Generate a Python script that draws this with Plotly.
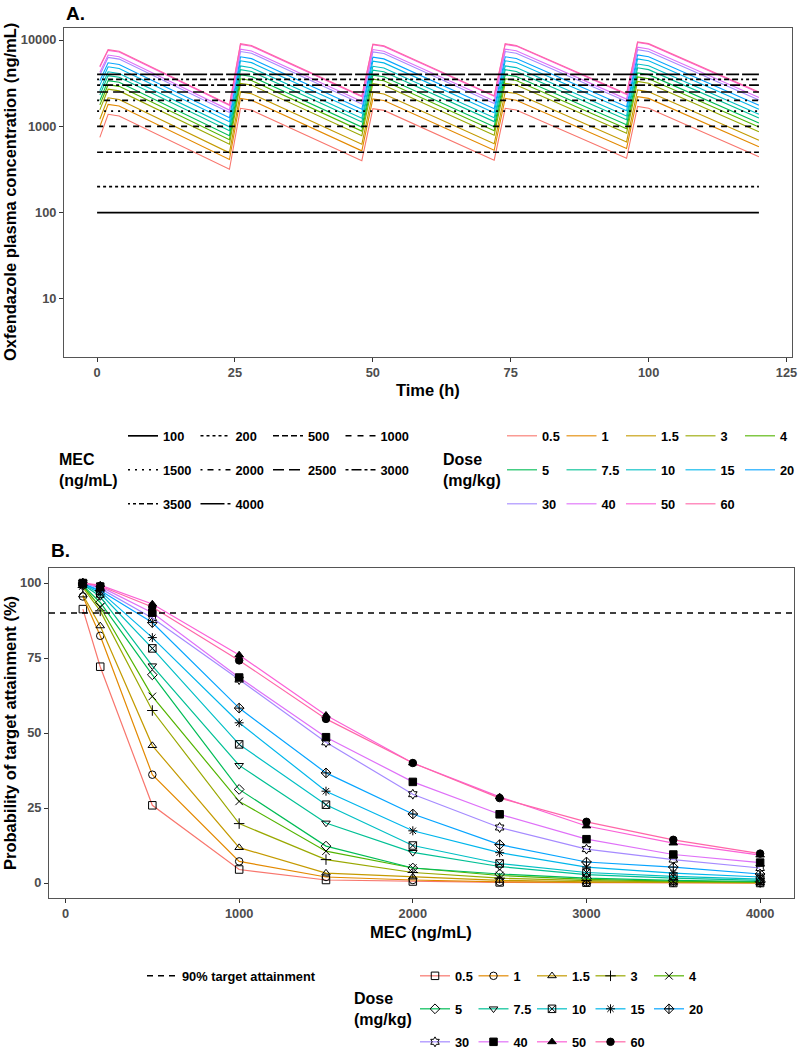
import math
import plotly.graph_objects as go

# ---------------- data ----------------
doses = ["0.5", "1", "1.5", "3", "4", "5", "7.5", "10", "15", "20", "30", "40", "50", "60"]

# Panel A: simulated plasma concentration (ng/mL), vertices of the profile
time_h = [0.5, 2, 4, 24, 26, 28, 48, 50, 52, 72, 74, 76, 96, 98, 100, 120]
conc_0_5 = [745, 1380, 1320, 318, 1616, 1540, 400, 1600, 1530, 405, 1616, 1545, 426, 1700, 1620, 445]
conc_1 = [995, 1794, 1716, 413, 2101, 2002, 520, 2080, 1989, 527, 2101, 2009, 554, 2210, 2106, 579]
conc_1_5 = [1206, 2139, 2046, 493, 2505, 2387, 620, 2480, 2372, 628, 2505, 2395, 660, 2635, 2511, 690]
conc_3 = [1553, 2691, 2574, 620, 3151, 3003, 780, 3120, 2984, 790, 3151, 3013, 831, 3315, 3159, 868]
conc_4 = [1772, 3036, 2904, 700, 3555, 3388, 880, 3520, 3366, 891, 3555, 3399, 937, 3740, 3564, 979]
conc_5 = [1996, 3381, 3234, 779, 3959, 3773, 980, 3920, 3749, 992, 3959, 3785, 1044, 4165, 3969, 1090]
conc_7_5 = [2311, 3864, 3696, 890, 4525, 4312, 1120, 4480, 4284, 1134, 4525, 4326, 1193, 4760, 4536, 1246]
conc_10 = [2585, 4278, 4092, 986, 5010, 4774, 1240, 4960, 4743, 1256, 5010, 4790, 1321, 5270, 5022, 1380]
conc_15 = [3000, 4899, 4686, 1129, 5737, 5467, 1420, 5680, 5432, 1438, 5737, 5485, 1512, 6035, 5751, 1580]
conc_20 = [3375, 5451, 5214, 1256, 6383, 6083, 1580, 6320, 6044, 1600, 6383, 6103, 1683, 6715, 6399, 1758]
conc_30 = [3940, 6279, 6006, 1447, 7353, 7007, 1820, 7280, 6962, 1843, 7353, 7030, 1938, 7735, 7371, 2025]
conc_40 = [4230, 6693, 6402, 1542, 7838, 7469, 1940, 7760, 7421, 1964, 7838, 7493, 2066, 8245, 7857, 2158]
conc_50 = [4860, 7590, 7260, 1749, 8888, 8470, 2200, 8800, 8415, 2228, 8888, 8498, 2343, 9350, 8910, 2448]
conc_60 = [4955, 7728, 7392, 1781, 9050, 8624, 2240, 8960, 8568, 2268, 9050, 8652, 2386, 9520, 9072, 2492]
conc_series = [conc_0_5, conc_1, conc_1_5, conc_3, conc_4, conc_5, conc_7_5,
               conc_10, conc_15, conc_20, conc_30, conc_40, conc_50, conc_60]

mec_levels = [100, 200, 500, 1000, 1500, 2000, 2500, 3000, 3500, 4000]
mec_time_span = [0, 120]

# Panel B: probability of target attainment (%)
mec_grid = [100, 200, 500, 1000, 1500, 2000, 2500, 3000, 3500, 4000]
pta_0_5 = [91.3, 72.1, 25.9, 4.5, 1.0, 0.5, 0.2, 0.1, 0.0, 0.0]
pta_1 = [95.5, 82.4, 36.1, 7.2, 2.0, 1.0, 0.4, 0.2, 0.1, 0.0]
pta_1_5 = [96.0, 85.7, 45.8, 11.8, 3.3, 2.0, 0.9, 0.4, 0.2, 0.1]
pta_3 = [98.5, 90.7, 57.5, 19.8, 7.8, 3.5, 1.6, 0.8, 0.4, 0.2]
pta_4 = [99.0, 92.0, 62.2, 27.2, 10.6, 5.0, 2.5, 1.2, 0.6, 0.3]
pta_5 = [99.2, 93.5, 69.4, 31.2, 12.3, 5.0, 3.0, 1.6, 0.9, 0.5]
pta_7_5 = [99.5, 95.5, 72.4, 39.2, 20.0, 10.2, 5.5, 2.8, 1.6, 0.9]
pta_10 = [99.6, 96.5, 78.2, 46.2, 26.1, 12.5, 6.5, 3.5, 2.2, 1.3]
pta_15 = [99.8, 97.2, 81.8, 53.4, 30.6, 17.4, 10.1, 5.3, 3.3, 2.0]
pta_20 = [99.8, 97.5, 86.8, 58.3, 36.7, 23.0, 12.8, 7.0, 5.3, 3.0]
pta_30 = [100.0, 98.2, 88.3, 67.8, 46.9, 29.6, 18.5, 11.3, 7.8, 5.0]
pta_40 = [100.0, 98.8, 90.1, 68.5, 48.6, 33.7, 22.9, 14.6, 9.5, 6.8]
pta_50 = [100.0, 99.3, 93.0, 76.0, 55.9, 40.0, 28.7, 19.0, 13.3, 9.3]
pta_60 = [100.0, 99.0, 92.0, 74.2, 54.7, 40.0, 28.3, 20.4, 14.4, 9.8]
pta_series = [pta_0_5, pta_1, pta_1_5, pta_3, pta_4, pta_5, pta_7_5,
              pta_10, pta_15, pta_20, pta_30, pta_40, pta_50, pta_60]
target_pta = 90

a_xticks = [0, 25, 50, 75, 100, 125]
a_yticks = [10, 100, 1000, 10000]
b_xticks = [0, 1000, 2000, 3000, 4000]
b_yticks = [0, 25, 50, 75, 100]

# ---------------- styles ----------------
W, H = 800, 1050
FONT = "Liberation Sans, Arial, sans-serif"


def hcl_hex(h, c=100.0, l=65.0):
    hr = math.radians(h)
    u, v = c * math.cos(hr), c * math.sin(hr)
    Xn, Yn, Zn = 95.047, 100.0, 108.883
    un = 4 * Xn / (Xn + 15 * Yn + 3 * Zn)
    vn = 9 * Yn / (Xn + 15 * Yn + 3 * Zn)
    Y = Yn * ((l + 16) / 116) ** 3 if l > 8 else Yn * l / 903.3
    up = u / (13 * l) + un
    vp = v / (13 * l) + vn
    X = Y * 9 * up / (4 * vp)
    Z = Y * (12 - 3 * up - 20 * vp) / (4 * vp)
    X, Y, Z = X / 100, Y / 100, Z / 100
    rgb = [3.240479 * X - 1.537150 * Y - 0.498535 * Z,
           -0.969256 * X + 1.875992 * Y + 0.041556 * Z,
           0.055648 * X - 0.204043 * Y + 1.057311 * Z]
    out = []
    for ch in rgb:
        ch = 12.92 * ch if ch <= 0.0031308 else 1.055 * ch ** (1 / 2.4) - 0.055
        out.append(int(round(min(max(ch, 0), 1) * 255)))
    return "#%02X%02X%02X" % tuple(out)


n = len(doses)
dose_colors = [hcl_hex(15 + 360.0 * i / n) for i in range(n)]
mec_dash = ["solid", "3px,3px", "6px,3px", "6px,6px", "2px,5px", "2px,5px,6px,5px",
            "11px,5px", "3px,3px,10px,3px", "2px,3px,3px,3px,5px,3px,6px,3px",
            "24px,3px,13px,3px"]
dose_symbols = ["square-open", "circle-open", "triangle-up-open", "cross-thin-open",
                "x-thin-open", "diamond-open", "triangle-down-open", "square-x-open",
                "asterisk-open", "diamond-cross-open", "hexagram-open", "square",
                "triangle-up", "circle"]


def px_x(p):  # screen pixel -> paper fraction
    return p / W


def px_y(p):
    return 1 - p / H


fig = go.Figure()

# ---- Panel A: concentration curves ----
a_dose_legends = ["legend4"] * 5 + ["legend5"] * 5 + ["legend6"] * 4
for i, d in enumerate(doses):
    fig.add_trace(go.Scatter(
        x=time_h, y=conc_series[i], mode="lines", name=d,
        line=dict(color=dose_colors[i], width=1.1),
        xaxis="x", yaxis="y", legend=a_dose_legends[i], hoverinfo="skip"))

mec_legends = ["legend"] * 4 + ["legend2"] * 4 + ["legend3"] * 2
for i, m in enumerate(mec_levels):
    fig.add_trace(go.Scatter(
        x=mec_time_span, y=[m, m], mode="lines", name=str(m),
        line=dict(color="black", width=1.7 if i == 0 else 1.6, dash=mec_dash[i]),
        xaxis="x", yaxis="y", legend=mec_legends[i], hoverinfo="skip"))

# ---- Panel B: PTA ----
b_dose_legends = ["legend8"] * 5 + ["legend9"] * 5 + ["legend10"] * 4
for i, d in enumerate(doses):
    fig.add_trace(go.Scatter(
        x=mec_grid, y=pta_series[i], mode="lines+markers", name=d,
        line=dict(color=dose_colors[i], width=1.2),
        marker=dict(symbol=dose_symbols[i], color="black", size=7.5,
                    line=dict(color="black", width=1)),
        xaxis="x2", yaxis="y2", legend=b_dose_legends[i], hoverinfo="skip"))

fig.add_shape(type="line", xref="x2 domain", x0=0, x1=1, yref="y2",
              y0=target_pta, y1=target_pta,
              line=dict(color="black", width=1.5, dash="6px,5px"),
              layer="above", showlegend=True, name="90% target attainment",
              legend="legend7")

axis_common = dict(showgrid=False, zeroline=False, showline=True, mirror=True,
                   linecolor="#555555", linewidth=1.1, ticks="outside", ticklen=4,
                   tickwidth=1, tickcolor="#333333",
                   tickfont=dict(family=FONT, size=12.8, color="#4D4D4D", weight="bold"))

fig.update_layout(
    width=W, height=H,
    margin=dict(l=0, r=0, t=0, b=0, autoexpand=False),
    paper_bgcolor="white", plot_bgcolor="white",
    xaxis=dict(domain=[px_x(64), px_x(792)], anchor="y", range=[-6, 126],
               tickmode="array", tickvals=a_xticks, **axis_common),
    yaxis=dict(domain=[px_y(357), px_y(28)], anchor="x", type="log",
               range=[0.328, 4.139], tickmode="array", tickvals=a_yticks,
               ticktext=[str(v) for v in a_yticks], **axis_common),
    xaxis2=dict(domain=[px_x(49), px_x(794)], anchor="y2", range=[-95, 4195],
                tickmode="array", tickvals=b_xticks, **axis_common),
    yaxis2=dict(domain=[px_y(898), px_y(568)], anchor="x2", range=[-5, 105],
                tickmode="array", tickvals=b_yticks, **axis_common),
    showlegend=True,
)

legend_font = dict(family=FONT, size=12.8, color="black", weight="bold")


def legend_row(x_text, y_center, entrywidth):
    return dict(orientation="h", x=px_x(x_text - 40), xanchor="left",
                y=px_y(y_center), yanchor="middle", entrywidth=entrywidth,
                entrywidthmode="pixels", itemwidth=30, bgcolor="rgba(0,0,0,0)",
                borderwidth=0, font=legend_font, traceorder="normal")


fig.update_layout(
    legend=legend_row(163, 436, 27.5),
    legend2=legend_row(163, 470, 27.5),
    legend3=legend_row(163, 504, 27.5),
    legend4=legend_row(542, 436, 14.5),
    legend5=legend_row(542, 470, 14.5),
    legend6=legend_row(542, 504, 14.5),
    legend7=legend_row(182, 976, 150),
    legend8=legend_row(455, 976, 13.5),
    legend9=legend_row(455, 1009, 13.5),
    legend10=legend_row(455, 1042, 13.5),
)

title_font = dict(family=FONT, size=16.5, color="black", weight="bold")
leg_title_font = dict(family=FONT, size=16, color="black", weight="bold")
panel_font = dict(family=FONT, size=19, color="black", weight="bold")

annotations = [
    dict(text="A.", x=px_x(64), y=px_y(13), xanchor="left", yanchor="middle", font=panel_font),
    dict(text="B.", x=px_x(49), y=px_y(550), xanchor="left", yanchor="middle", font=panel_font),
    dict(text="Oxfendazole plasma concentration (ng/mL)", x=px_x(10), y=px_y(192),
         textangle=-90, xanchor="center", yanchor="middle", font=title_font),
    dict(text="Time (h)", x=px_x(428), y=px_y(390), xanchor="center", yanchor="middle",
         font=title_font),
    dict(text="Probability of target attainment (%)", x=px_x(10), y=px_y(733),
         textangle=-90, xanchor="center", yanchor="middle", font=title_font),
    dict(text="MEC (ng/mL)", x=px_x(421), y=px_y(932), xanchor="center", yanchor="middle",
         font=title_font),
    dict(text="MEC<br>(ng/mL)", x=px_x(57), y=px_y(470), xanchor="left", yanchor="middle",
         align="left", font=leg_title_font),
    dict(text="Dose<br>(mg/kg)", x=px_x(441), y=px_y(470), xanchor="left", yanchor="middle",
         align="left", font=leg_title_font),
    dict(text="Dose<br>(mg/kg)", x=px_x(352), y=px_y(1009), xanchor="left", yanchor="middle",
         align="left", font=leg_title_font),
]
for a in annotations:
    a.update(xref="paper", yref="paper", showarrow=False)
fig.update_layout(annotations=annotations)

# Remove the browser's default 8px body margin so the figure fills the window exactly.
fig.write_html("out.html", config={"displayModeBar": False},
               post_script="document.body.style.margin='0px';"
                           "document.body.style.overflow='hidden';")
